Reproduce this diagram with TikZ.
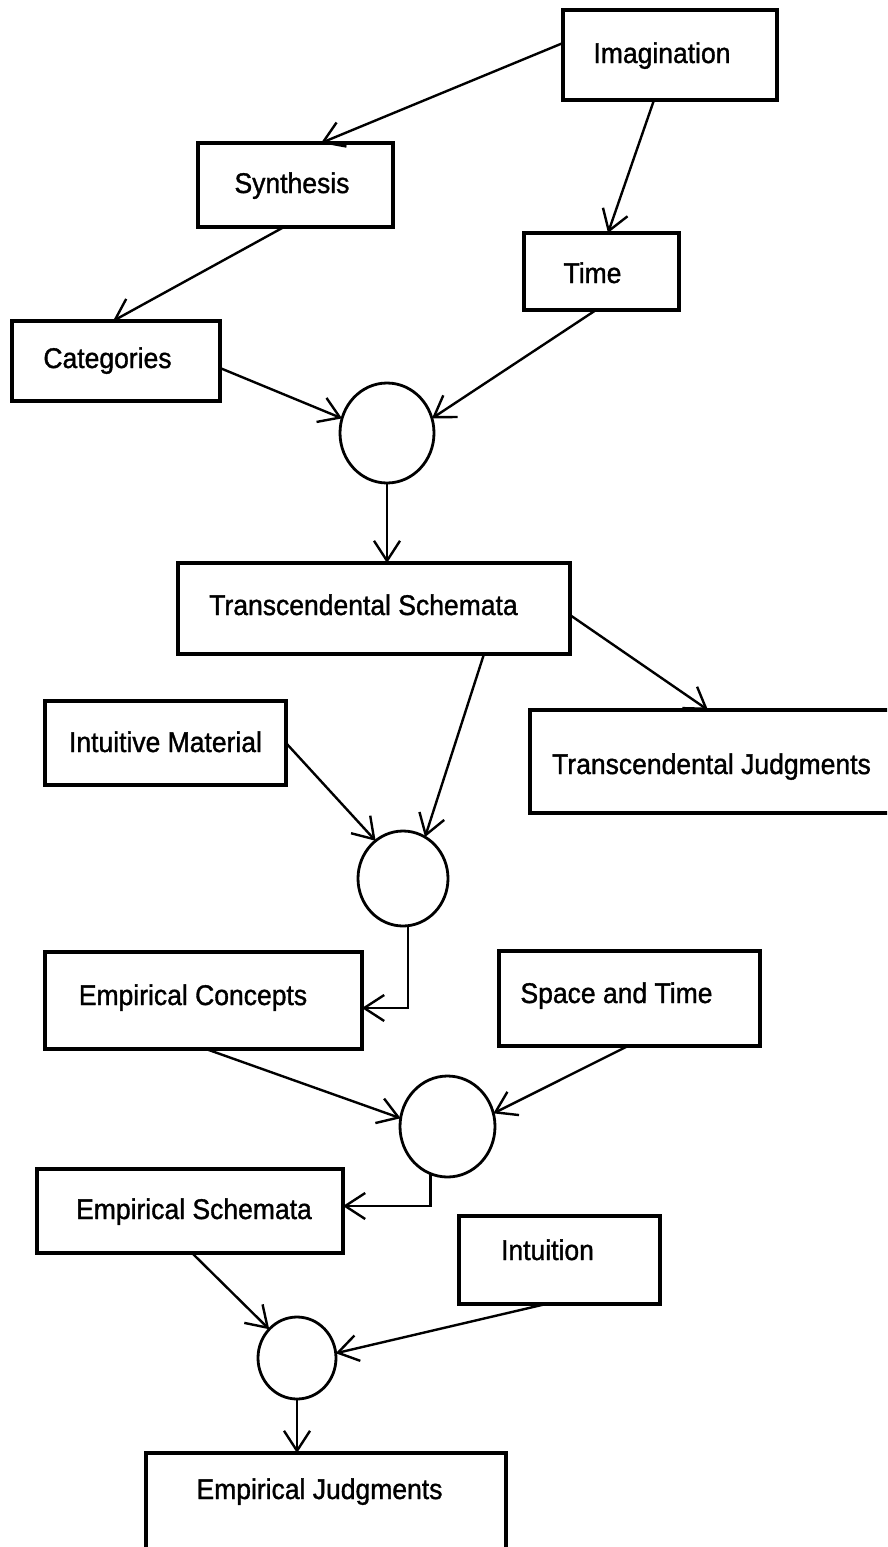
\documentclass[tikz,border=0pt]{standalone}
\usepackage{fontspec}
\setmainfont{Liberation Sans}
\newfontfamily\diafont[FakeStretch=0.93,FakeBold=1.2]{Liberation Sans}
\usetikzlibrary{arrows.meta,calc,shapes.geometric}
\begin{document}
\begin{tikzpicture}[x=1pt,y=-1pt,
  box/.style={draw, line width=3.2pt, rectangle, anchor=north west, inner sep=0pt, outer sep=0pt},
  hub/.style={draw, line width=2.8pt, ellipse, inner sep=0pt, outer sep=0pt},
  lbl/.style={font=\diafont\fontsize{28.5}{32}\selectfont, anchor=base, inner sep=0pt},
  link/.style={line width=2.4pt, -{Straight Barb[length=20pt,width=26pt]}}]
\useasboundingbox (0,0) rectangle (887,1547);
\clip (0,0) rectangle (887,1547);

% boxes
\node[box, minimum width=214pt, minimum height=90pt]  (imag) at (563,10) {};
\node[box, minimum width=195pt, minimum height=84pt]  (syn)  at (198,143) {};
\node[box, minimum width=155pt, minimum height=77pt]  (time) at (524,233) {};
\node[box, minimum width=208pt, minimum height=80pt]  (cat)  at (12,321) {};
\node[box, minimum width=392pt, minimum height=91pt]  (ts)   at (178,563) {};
\node[box, minimum width=241pt, minimum height=84pt]  (im)   at (45,701) {};
\node[box, minimum width=380pt, minimum height=103pt] (tj)   at (530,710) {};
\node[box, minimum width=317pt, minimum height=97pt]  (ec)   at (45,952) {};
\node[box, minimum width=261pt, minimum height=95pt]  (st)   at (499,951) {};
\node[box, minimum width=306pt, minimum height=84pt]  (es)   at (37,1169) {};
\node[box, minimum width=201pt, minimum height=88pt]  (intu) at (459,1216) {};
\node[box, minimum width=360pt, minimum height=110pt] (ej)   at (146,1453) {};

% hubs
\node[hub, minimum width=94pt, minimum height=100pt] (c1) at (387,433) {};
\node[hub, minimum width=90pt, minimum height=95pt]  (c2) at (403,878.5) {};
\node[hub, minimum width=95pt, minimum height=101pt] (c3) at (447.5,1126.5) {};
\node[hub, minimum width=78pt, minimum height=82pt]  (c4) at (297,1358) {};

% labels
\node[lbl] (imag-t) at (662,63)    {Imagination};
\node[lbl] (syn-t)  at (292,193)   {Synthesis};
\node[lbl] (time-t) at (592.5,283) {Time};
\node[lbl] (cat-t)  at (107.5,368) {Categories};
\node[lbl] (ts-t)   at (363.5,615) {Transcendental Schemata};
\node[lbl] (im-t)   at (165.5,752) {Intuitive Material};
\node[lbl] (tj-t)   at (711.5,774) {Transcendental Judgments};
\node[lbl] (ec-t)   at (193,1005)  {Empirical Concepts};
\node[lbl] (st-t)   at (616.5,1003) {Space and Time};
\node[lbl] (es-t)   at (194,1219)  {Empirical Schemata};
\node[lbl] (intu-t) at (547.5,1260) {Intuition};
\node[lbl] (ej-t)   at (319.5,1499) {Empirical Judgments};

% connectors
\draw[link] ($(imag.west)+(0,-12)$) -- ($(syn.north)+(25.5,0)$);
\draw[link] ($(imag.south)+(-16,0)$) -- ($(time.north)+(6.5,0)$);
\draw[link] ($(syn.south)+(-11.5,0)$) -- ($(cat.north)+(-3,0)$);
\draw[link] ($(time.south)+(-5.5,0)$) -- (c1.18);
\draw[link] ($(cat.east)+(0,7)$) -- (c1.162);
\draw[link] (c1.south) -- (c1.south |- ts.north);
\draw[link] ($(ts.east)+(0,6.5)$) -- ($(tj.north west)+(178,0)$);
\draw[link] ($(ts.south west)+(306,0)$) -- (c2.62);
\draw[link] (im.east) -- (c2.126);
\draw[link] (c2.-84) |- ($(ec.east)+(0,7.5)$);
\draw[link] ($(ec.south west)+(161,0)$) -- (c3.170);
\draw[link] ($(st.south west)+(129,0)$) -- (c3.16);
\draw[link] (c3.-110) |- ($(es.east)+(0,-5)$);
\draw[link] ($(es.south west)+(155,0)$) -- (c4.134);
\draw[link] ($(intu.south west)+(87,0)$) -- (c4.7.5);
\draw[link] (c4.south) -- (c4.south |- ej.north);
\end{tikzpicture}
\end{document}
